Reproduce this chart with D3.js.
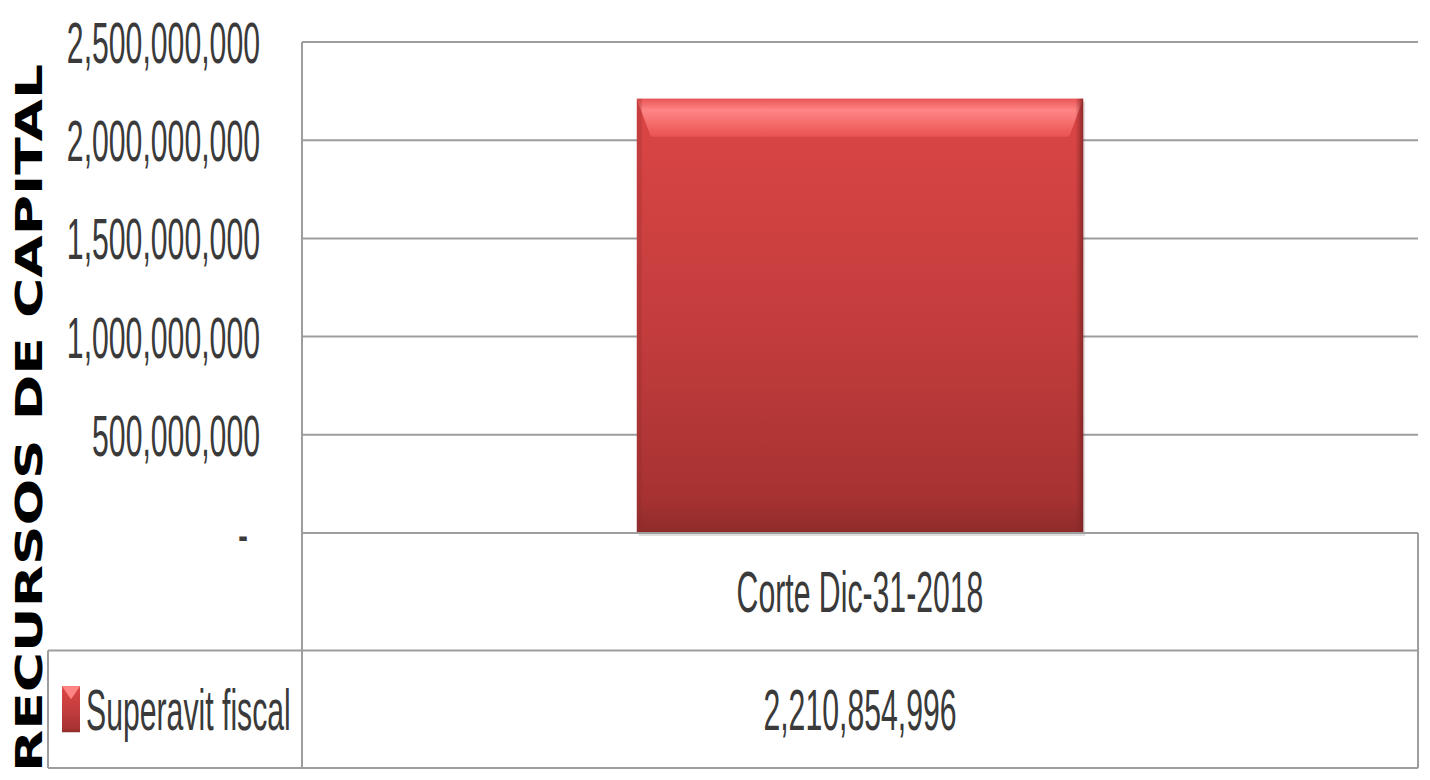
<!DOCTYPE html>
<html>
<head>
<meta charset="utf-8">
<script src="https://cdn.jsdelivr.net/npm/d3@7"></script>
<style>
  body { margin: 0; background: #fff; }
  svg { display: block; }
</style>
</head>
<body>
<div id="chart"></div>
<script>
// --- Data ---
const categories = ["Corte Dic-31-2018"];
const seriesNames = ["Superavit fiscal"];
const seriesValues = [2210854996];
const yTicks = [0, 500000000, 1000000000, 1500000000, 2000000000, 2500000000];
const axisTitle = "RECURSOS DE CAPITAL";

// --- Layout ---
const W = 1430, H = 780;
const plot = { left: 302, right: 1418, top: 42, bottom: 533 };
const rowH = 117.5;
const tableLeft = 48;
const squeeze = 0.53;       // text in the picture is stretched tall and narrow
const fontSize = 57;
const txtColor = "#3a3a3a";
const gridColor = "#9d9d9d";

const svg = d3.select("#chart").append("svg")
    .attr("width", W)
    .attr("height", H);

const defs = svg.append("defs");

const barGrad = defs.append("linearGradient")
    .attr("id", "barGrad").attr("x1", 0).attr("y1", 0).attr("x2", 0).attr("y2", 1);
barGrad.append("stop").attr("offset", "0%").attr("stop-color", "#dc4646");
barGrad.append("stop").attr("offset", "55%").attr("stop-color", "#c23c3c");
barGrad.append("stop").attr("offset", "92%").attr("stop-color", "#a73232");
barGrad.append("stop").attr("offset", "100%").attr("stop-color", "#8e2b2b");

const bevelGrad = defs.append("linearGradient")
    .attr("id", "bevelGrad").attr("x1", 0).attr("y1", 0).attr("x2", 0).attr("y2", 1);
bevelGrad.append("stop").attr("offset", "0%").attr("stop-color", "#e85555");
bevelGrad.append("stop").attr("offset", "30%").attr("stop-color", "#ff8585");
bevelGrad.append("stop").attr("offset", "100%").attr("stop-color", "#ea5252");

const sideGrad = defs.append("linearGradient")
    .attr("id", "sideGrad").attr("x1", 0).attr("y1", 0).attr("x2", 1).attr("y2", 0);
sideGrad.append("stop").attr("offset", "0%").attr("stop-color", "#8a2a2a").attr("stop-opacity", 0.0);
sideGrad.append("stop").attr("offset", "100%").attr("stop-color", "#7a2222").attr("stop-opacity", 0.8);

// Scales
const x = d3.scaleBand()
    .domain(categories)
    .range([plot.left, plot.right])
    .paddingInner(0)
    .paddingOuter(0.75);

const y = d3.scaleLinear()
    .domain([0, 2500000000])
    .range([plot.bottom, plot.top]);

// Gridlines
svg.append("g")
    .selectAll("line")
    .data(yTicks.filter(d => d > 0))
    .enter().append("line")
    .attr("x1", plot.left)
    .attr("x2", plot.right)
    .attr("y1", d => y(d))
    .attr("y2", d => y(d))
    .attr("stroke", gridColor)
    .attr("stroke-width", 2);

// Y axis labels
const yAxis = svg.append("g")
    .attr("transform", `translate(${plot.left},0)`)
    .call(d3.axisLeft(y).tickValues(yTicks).tickSize(0)
        .tickFormat(d => d === 0 ? "-" : d3.format(",")(d)));
yAxis.select(".domain").remove();
yAxis.selectAll("text")
    .attr("font-family", "'Liberation Sans', Arial, sans-serif")
    .attr("font-size", fontSize)
    .attr("fill", txtColor)
    .attr("transform", `scale(${squeeze},1)`)
    .attr("x", d => (d === 0 ? -54 : -42) / squeeze)
    .attr("dy", "0.36em");

// Bars
const barG = svg.append("g");
categories.forEach((c, i) => {
    const x0 = x(c), bw = x.bandwidth();
    const yTop = y(seriesValues[i]), yBase = y(0);
    const bevel = 38, inset = 14;

    barG.append("rect")
        .attr("x", x0 + 2).attr("y", yTop + 3)
        .attr("width", bw).attr("height", yBase - yTop)
        .attr("fill", "#000").attr("opacity", 0.12);

    barG.append("rect")
        .attr("x", x0).attr("y", yTop)
        .attr("width", bw).attr("height", yBase - yTop)
        .attr("fill", "url(#barGrad)");

    barG.append("polygon")
        .attr("points", [
            [x0, yTop], [x0 + bw, yTop],
            [x0 + bw - inset, yTop + bevel], [x0 + inset, yTop + bevel]
        ].map(p => p.join(",")).join(" "))
        .attr("fill", "url(#bevelGrad)");

    barG.append("rect")
        .attr("x", x0 + bw - 8).attr("y", yTop)
        .attr("width", 8).attr("height", yBase - yTop)
        .attr("fill", "url(#sideGrad)");

    barG.append("rect")
        .attr("x", x0).attr("y", yTop)
        .attr("width", 5).attr("height", yBase - yTop)
        .attr("fill", "#8a2a2a").attr("opacity", 0.25);
});

// Data table
const table = svg.append("g")
    .attr("stroke", gridColor)
    .attr("stroke-width", 2)
    .attr("fill", "none");

const row1 = plot.bottom, row2 = plot.bottom + rowH, row3 = plot.bottom + 2 * rowH;
table.append("line").attr("x1", plot.left).attr("x2", plot.right).attr("y1", row1).attr("y2", row1);
table.append("line").attr("x1", tableLeft).attr("x2", plot.right).attr("y1", row2).attr("y2", row2);
table.append("line").attr("x1", tableLeft).attr("x2", plot.right).attr("y1", row3).attr("y2", row3);
table.append("line").attr("x1", plot.left).attr("x2", plot.left).attr("y1", plot.top).attr("y2", row3);
table.append("line").attr("x1", tableLeft).attr("x2", tableLeft).attr("y1", row2).attr("y2", row3);
table.append("line").attr("x1", plot.right).attr("x2", plot.right).attr("y1", row1).attr("y2", row3);

const cellX = c => x(c) + x.bandwidth() / 2;

// Category row
svg.append("g").selectAll("text")
    .data(categories)
    .enter().append("text")
    .attr("transform", d => `translate(${cellX(d)},${(row1 + row2) / 2}) scale(${squeeze},1)`)
    .attr("text-anchor", "middle")
    .attr("dy", "0.36em")
    .attr("font-family", "'Liberation Sans', Arial, sans-serif")
    .attr("font-size", fontSize)
    .attr("fill", txtColor)
    .text(d => d);

// Value row
svg.append("g").selectAll("text")
    .data(seriesValues)
    .enter().append("text")
    .attr("transform", (d, i) => `translate(${cellX(categories[i])},${(row2 + row3) / 2}) scale(${squeeze},1)`)
    .attr("text-anchor", "middle")
    .attr("dy", "0.36em")
    .attr("font-family", "'Liberation Sans', Arial, sans-serif")
    .attr("font-size", fontSize)
    .attr("fill", txtColor)
    .text(d => d3.format(",")(d));

// Legend key + series name
const keyG = svg.append("g");
seriesNames.forEach((name, i) => {
    const ky = (row2 + row3) / 2;
    keyG.append("rect")
        .attr("x", 62).attr("y", ky - 23)
        .attr("width", 18).attr("height", 46)
        .attr("fill", "url(#barGrad)");
    keyG.append("polygon")
        .attr("points", `62,${ky - 23} 80,${ky - 23} 71,${ky - 10}`)
        .attr("fill", "#ff8585");
    keyG.append("text")
        .attr("transform", `translate(86,${ky}) scale(${squeeze},1)`)
        .attr("dy", "0.36em")
        .attr("font-family", "'Liberation Sans', Arial, sans-serif")
        .attr("font-size", fontSize)
        .attr("fill", txtColor)
        .text(name);
});

// Vertical axis title
svg.append("text")
    .attr("transform", "translate(42,418) rotate(-90)")
    .attr("text-anchor", "middle")
    .attr("font-family", "'DejaVu Sans', sans-serif")
    .attr("font-weight", "bold")
    .attr("font-size", 37)
    .attr("fill", "#000")
    .attr("textLength", 708)
    .attr("lengthAdjust", "spacingAndGlyphs")
    .text(axisTitle);
</script>
</body>
</html>
